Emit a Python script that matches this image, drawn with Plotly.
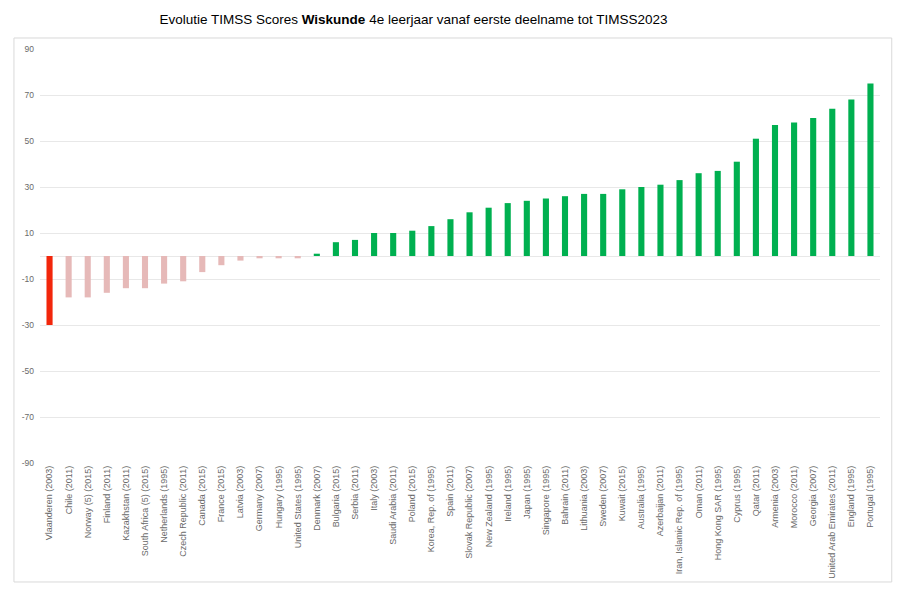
import plotly.graph_objects as go

countries = [
    "Vlaanderen (2003)", "Chile (2011)", "Norway (5) (2015)", "Finland (2011)",
    "Kazakhstan (2011)", "South Africa (5) (2015)", "Netherlands (1995)",
    "Czech Republic (2011)", "Canada (2015)", "France (2015)", "Latvia (2003)",
    "Germany (2007)", "Hungary (1995)", "United States (1995)", "Denmark (2007)",
    "Bulgaria (2015)", "Serbia (2011)", "Italy (2003)", "Saudi Arabia (2011)",
    "Poland (2015)", "Korea, Rep. of (1995)", "Spain (2011)",
    "Slovak Republic (2007)", "New Zealand (1995)", "Ireland (1995)",
    "Japan (1995)", "Singapore (1995)", "Bahrain (2011)", "Lithuania (2003)",
    "Sweden (2007)", "Kuwait (2015)", "Australia (1995)", "Azerbaijan (2011)",
    "Iran, Islamic Rep. of (1995)", "Oman (2011)", "Hong Kong SAR (1995)",
    "Cyprus (1995)", "Qatar (2011)", "Armenia (2003)", "Morocco (2011)",
    "Georgia (2007)", "United Arab Emirates (2011)", "England (1995)",
    "Portugal (1995)",
]
score_change = [
    -30, -18, -18, -16, -14, -14, -12, -11, -7, -4, -2, -1, -1, -1, 1,
    6, 7, 10, 10, 11, 13, 16, 19, 21, 23, 24, 25, 26, 27, 27, 29, 30, 31,
    33, 36, 37, 41, 51, 57, 58, 60, 64, 68, 75,
]
y_ticks = [-90, -70, -50, -30, -10, 10, 30, 50, 70, 90]
highlight = "Vlaanderen (2003)"

RED = "#F2260B"
PINK = "#E6B9B8"
GREEN = "#00B050"

colors = []
for c, v in zip(countries, score_change):
    if c == highlight:
        colors.append(RED)
    elif v < 0:
        colors.append(PINK)
    else:
        colors.append(GREEN)

fig = go.Figure(
    go.Bar(
        x=countries,
        y=score_change,
        marker=dict(color=colors, line=dict(width=0)),
        hoverinfo="x+y",
    )
)

fig.update_layout(
    width=908,
    height=592,
    paper_bgcolor="white",
    plot_bgcolor="white",
    margin=dict(l=40, r=28, t=49, b=129),
    bargap=0.68,
    showlegend=False,
    font=dict(family="Liberation Sans, Arial, sans-serif", color="#595959"),
    title=dict(
        text="Evolutie TIMSS Scores <b>Wiskunde</b> 4e leerjaar vanaf eerste deelname tot TIMSS2023",
        x=413.5 / 908,
        xref="container",
        xanchor="center",
        y=1 - 19 / 592,
        yref="container",
        yanchor="middle",
        font=dict(size=13.5, color="#000000", family="Liberation Sans, Arial, sans-serif"),
    ),
    shapes=[
        dict(
            type="rect",
            xref="paper",
            yref="paper",
            x0=-0.031,
            x1=1.014,
            y0=-0.2874,
            y1=1.0266,
            line=dict(color="#D9D9D9", width=1),
            fillcolor="rgba(0,0,0,0)",
            layer="below",
        )
    ],
)

fig.update_xaxes(
    type="category",
    tickangle=-90,
    tickfont=dict(size=9, color="#6A6A6A"),
    showgrid=False,
    showline=False,
    ticks="",
    range=[-0.5, len(countries) - 0.5],
)

fig.update_yaxes(
    range=[-90, 90],
    tickvals=y_ticks,
    ticktext=[str(t) for t in y_ticks],
    tickfont=dict(size=8.5, color="#6A6A6A"),
    ticklabelstandoff=5,
    showgrid=True,
    gridcolor="#E8E8E8",
    gridwidth=1,
    zeroline=True,
    zerolinecolor="#E8E8E8",
    zerolinewidth=1,
    showline=False,
    ticks="",
)

fig.write_html("out.html", config={"displayModeBar": False})

# remove the default body margin so the figure sits at the page origin
with open("out.html", "r", encoding="utf-8") as f:
    html = f.read()
html = html.replace("<body>", '<body style="margin:0;padding:0;">', 1)
html = html.replace("<head>", "<head><style>html,body{margin:0;padding:0;overflow:hidden;}</style>", 1)
with open("out.html", "w", encoding="utf-8") as f:
    f.write(html)
